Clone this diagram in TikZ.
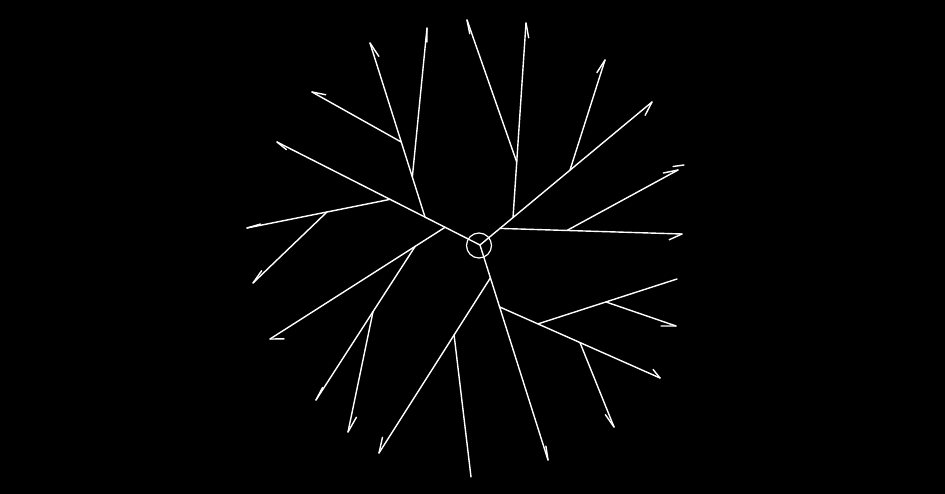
\documentclass[tikz,border=0pt]{standalone}
\usetikzlibrary{calc}
\newcommand\mybarb[4]{\draw[ln] (#1) -- ($(#1)!#4pt!#3:(#2)$);}
\begin{document}
\begin{tikzpicture}[x=1pt,y=-1pt,
  ln/.style={white, line width=1.4pt, line cap=round},
  hubst/.style={circle, draw=white, line width=1.2pt, minimum size=25pt, inner sep=0pt}]
\fill[black] (0,0) rectangle (945,494);
\useasboundingbox (0,0) rectangle (945,494);
% centre
\coordinate (c) at (480,245);
\node[hubst] (hub) at (479,245.5) {};
% tips
\coordinate (t1) at (277,142);
\coordinate (t2) at (370,43);
\coordinate (t3) at (427,28);
\coordinate (t4) at (312,92);
\coordinate (t5) at (247,228);
\coordinate (t6) at (253,283);
\coordinate (t7) at (270,339);
\coordinate (t8) at (316,400);
\coordinate (t9) at (348,432);
\coordinate (t10) at (379,453);
\coordinate (t11) at (471,477);
\coordinate (t12) at (548,460);
\coordinate (t13) at (660,378);
\coordinate (t14) at (677,279);
\coordinate (t15) at (676,326);
\coordinate (t16) at (614,427);
\coordinate (t17) at (652,102);
\coordinate (t18) at (526,23);
\coordinate (t19) at (467,20);
\coordinate (t20) at (605,60);
\coordinate (t21) at (682,234);
\coordinate (t22) at (678,170);
% junctions
\coordinate (j1) at ($(c)!0.172!(t1)$);
\coordinate (j2) at ($(c)!0.271!(t1)$);
\coordinate (j3) at ($(c)!0.443!(t1)$);
\coordinate (a1) at ($(j2)!0.230!(t2)$);
\coordinate (a2) at ($(j2)!0.431!(t2)$);
\coordinate (b1) at ($(j3)!0.441!(t5)$);
\coordinate (c1) at ($(j1)!0.171!(t7)$);
\coordinate (d1) at ($(c1)!0.425!(t8)$);
\coordinate (e0) at ($(c)!0.153!(t12)$);
\coordinate (f0) at ($(c)!0.288!(t12)$);
\coordinate (e1) at ($(e0)!0.326!(t10)$);
\coordinate (f1) at ($(f0)!0.239!(t13)$);
\coordinate (f3) at ($(f0)!0.501!(t13)$);
\coordinate (f2) at ($(f1)!0.489!(t14)$);
\coordinate (g1) at ($(c)!0.116!(t17)$);
\coordinate (h1) at ($(c)!0.192!(t17)$);
\coordinate (i1) at ($(c)!0.523!(t17)$);
\coordinate (g2) at ($(g1)!0.368!(t21)$);
\coordinate (h2) at ($(h1)!0.285!(t18)$);
% branches
\draw[ln] (c) -- (t1);
\draw[ln] (j2) -- (t2);
\draw[ln] (a1) -- (t3);
\draw[ln] (a2) -- (t4);
\draw[ln] (j3) -- (t5);
\draw[ln] (b1) -- (t6);
\draw[ln] (j1) -- (t7);
\draw[ln] (c1) -- (t8);
\draw[ln] (d1) -- (t9);
\draw[ln] (c) -- (t12);
\draw[ln] (e0) -- (t10);
\draw[ln] (e1) -- (t11);
\draw[ln] (f0) -- (t13);
\draw[ln] (f1) -- (t14);
\draw[ln] (f2) -- (t15);
\draw[ln] (f3) -- (t16);
\draw[ln] (c) -- (t17);
\draw[ln] (g1) -- (t21);
\draw[ln] (g2) -- (t22);
\draw[ln] (h1) -- (t18);
\draw[ln] (h2) -- (t19);
\draw[ln] (i1) -- (t20);
% half arrow heads
\mybarb{t1}{c}{-12}{12}
\mybarb{t2}{j2}{16}{16}
\mybarb{t3}{a1}{5}{14}
\mybarb{t4}{a2}{18}{14}
\mybarb{t5}{j3}{5}{14}
\mybarb{t6}{b1}{11}{15}
\mybarb{t7}{j1}{-32}{14}
\mybarb{t8}{c1}{5}{14}
\mybarb{t9}{d1}{-18}{17}
\mybarb{t10}{e0}{20}{16}
\mybarb{t12}{c}{-9}{14}
\mybarb{t13}{f0}{-27}{11}
\mybarb{t15}{f2}{19}{15}
\mybarb{t16}{f3}{13}{15}
\mybarb{t17}{c}{23}{15}
\mybarb{t18}{h1}{14}{15}
\mybarb{t19}{h2}{-8}{14}
\mybarb{t20}{i1}{-15}{15}
\mybarb{t21}{g1}{26}{14}
\mybarb{t22}{g2}{-17}{15}
\coordinate (s1) at (673,166.5);
\coordinate (s2) at (684,165);
\draw[ln] (s1) -- (s2);
\end{tikzpicture}
\end{document}
